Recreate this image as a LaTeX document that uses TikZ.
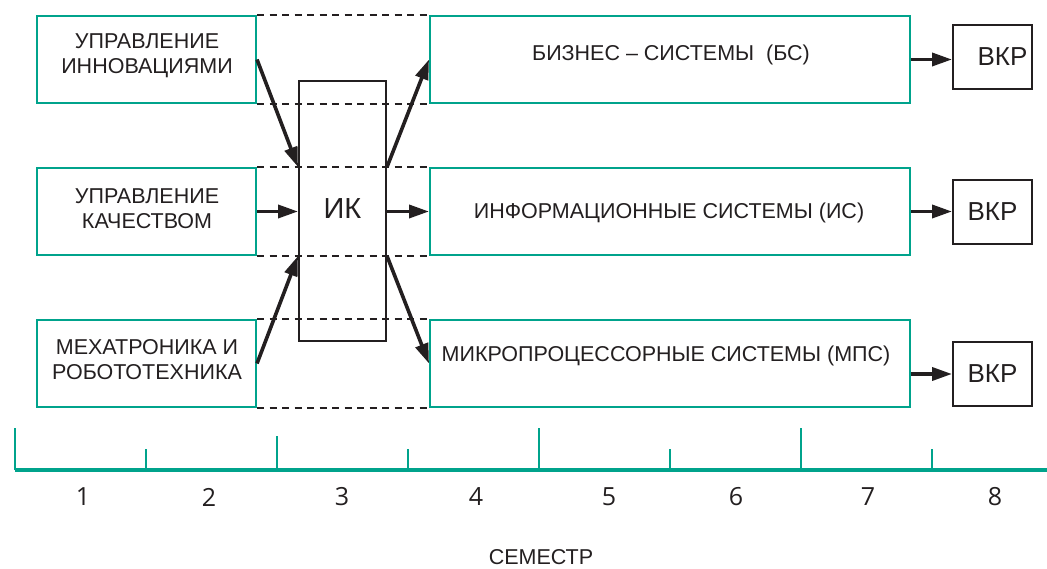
\documentclass[tikz,border=0pt]{standalone}
\usepackage{fontspec}
\usetikzlibrary{arrows.meta}
\newfontfamily\labfont{Liberation Sans}
\newfontfamily\numfont{Open Sans}
\definecolor{teal}{RGB}{0,163,140}
\definecolor{ink}{RGB}{35,31,32}
\begin{document}
\begin{tikzpicture}[x=1pt,y=-1pt,
  lab/.style={font=\labfont\fontsize{21.5}{25}\selectfont,text=ink,align=center},
  sbox/.style={draw=teal,line width=2pt,inner sep=0pt},
  leftbox/.style={sbox,minimum width=219pt,minimum height=87pt},
  rightbox/.style={sbox,minimum width=480pt,minimum height=87pt},
  kbox/.style={draw=ink,line width=2pt,inner sep=0pt,
    font=\labfont\fontsize{26}{30}\selectfont,text=ink},
  flow/.style={line width=3.6pt,ink,-{Triangle[length=20pt,width=13pt]}},
  guide/.style={line width=2pt,ink,dash pattern=on 7pt off 5.5pt},
  axis/.style={draw=teal,line width=4pt},
  tick/.style={draw=teal,line width=2.8pt},
  semnum/.style={font=\numfont\fontsize{25}{28}\selectfont,text=ink}]
\useasboundingbox (0,0) rectangle (1047,569);

% left column: specialisations
\node[leftbox] (lb1) at (146.5,59.5) {};
\node[leftbox] (lb2) at (146.5,211.5) {};
\node[leftbox] (lb3) at (146.5,363.5) {};
\node[lab] (t1) at (147,56) {УПРАВЛЕНИЕ\\ИННОВАЦИЯМИ};
\node[lab] (t2) at (147,209) {УПРАВЛЕНИЕ\\КАЧЕСТВОМ};
\node[lab] (t3) at (147,360) {МЕХАТРОНИКА И\\РОБОТОТЕХНИКА};

% right column: system tracks
\node[rightbox] (rb1) at (670,59.5) {};
\node[rightbox] (rb2) at (670,211.5) {};
\node[rightbox] (rb3) at (670,363.5) {};
\node[lab] (r1) at (671,55) {БИЗНЕС – СИСТЕМЫ\ \ (БС)};
\node[lab] (r2) at (669,213) {ИНФОРМАЦИОННЫЕ СИСТЕМЫ (ИС)};
\node[lab] (r3) at (666,356) {МИКРОПРОЦЕССОРНЫЕ СИСТЕМЫ (МПС)};

% row guides between the columns
\foreach \r in {1,2,3}{
  \draw[guide] (lb\r.north east) -- (rb\r.north west);
  \draw[guide] (lb\r.south east) -- (rb\r.south west);
}

% central block
\node[kbox,minimum width=87pt,minimum height=260pt] (ik) at (342.5,211) {};
\node[font=\labfont\fontsize{29}{32}\selectfont,text=ink] (ikt) at (342.5,209) {ИК};

% final qualification work
\node[kbox,minimum width=79pt,minimum height=64pt] (v1) at (992.5,57) {\hspace*{20pt}ВКР};
\node[kbox,minimum width=79pt,minimum height=64pt] (v2) at (992.5,212) {ВКР};
\node[kbox,minimum width=79pt,minimum height=64pt] (v3) at (992.5,374) {ВКР};

% flows into and out of the central block
\draw[flow] (lb1.east) -- (ik.west |- lb2.north);
\draw[flow] (lb2.east) -- (ik.west |- lb2.east);
\draw[flow] (lb3.east) -- (ik.west |- lb2.south);
\draw[flow] (ik.east |- rb2.north) -- (rb1.west);
\draw[flow] (ik.east |- rb2.west) -- (rb2.west);
\draw[flow] (ik.east |- rb2.south) -- (rb3.west);

% flows to the final work
\draw[flow] (rb1.east) -- (rb1.east -| v1.west);
\draw[flow] (rb2.east) -- (rb2.east -| v2.west);
\draw[flow] (v3.west -| rb3.east) -- (v3.west);

% semester scale
\draw[axis] (15,470) -- (1047,470);
\foreach \x/\t in {15/428,146/449,277/436,408/449,539/428,670/449,801/428,932/449}
  \draw[tick] (\x,470) -- (\x,\t);
\foreach \x/\n in {83/1,209/2,342/3,476/4,609/5,736/6,868/7,995/8}
  \node[semnum] (s\n) at (\x,497) {\n};
\node[lab] (sem) at (541,557) {СЕМЕСТР};
\end{tikzpicture}
\end{document}
